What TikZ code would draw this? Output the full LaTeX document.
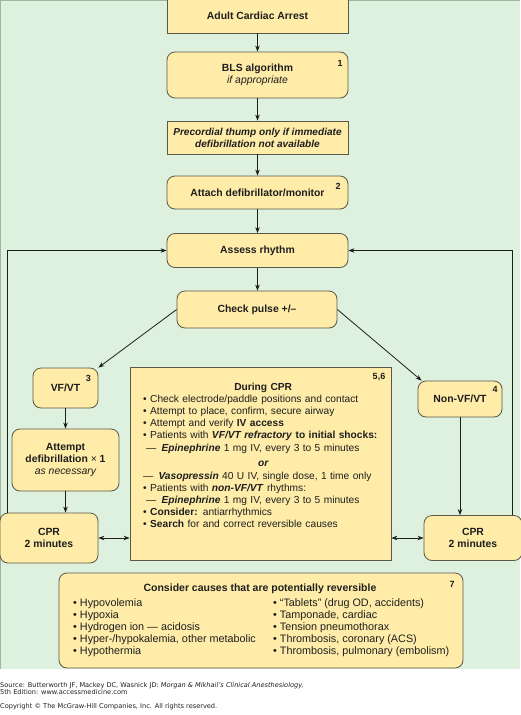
\documentclass[tikz,border=0pt]{standalone}
\usepackage{fontspec}
\setmainfont{Liberation Sans}
\newfontfamily\footfont{DejaVu Sans}
\usetikzlibrary{arrows.meta}
\definecolor{bggreen}{RGB}{222,240,222}
\definecolor{bgedge}{RGB}{160,180,160}
\definecolor{boxfill}{RGB}{255,236,168}
\definecolor{boxline}{RGB}{90,88,70}
\definecolor{ink}{RGB}{30,30,30}
\begin{document}
\begin{tikzpicture}[x=1pt,y=-1pt,
  box/.style={draw=boxline, line width=0.8pt, fill=boxfill, inner sep=0pt, text=ink,
    align=center, font=\fontsize{10.4}{12}\selectfont\bfseries},
  rbox/.style={box, rounded corners=8pt},
  tip/.tip={Stealth[length=6pt,width=4.5pt]},
  arr/.style={draw=ink, line width=0.8pt, -tip},
  darr/.style={draw=ink, line width=0.8pt, tip-tip},
  num/.style={font=\fontsize{9}{10}\selectfont\bfseries, text=ink, inner sep=0pt},
  bodytext/.style={font=\fontsize{10.2}{12.2}\selectfont, text=ink, inner sep=0pt, align=left},
  causetext/.style={font=\fontsize{10.8}{12}\selectfont, text=ink, inner sep=0pt, align=left},
  foot/.style={font=\footfont\fontsize{6.6}{7.6}\selectfont, text=ink, inner sep=0pt, align=left},
]
\useasboundingbox (0,0) rectangle (520,715);
\fill[bggreen] (0,0) rectangle (520,669);
\draw[bgedge, line width=0.6pt] (0,669) -- (0,0) -- (520,0);

% main column
\node[box, minimum width=181, minimum height=35] (start) at (257.5,15.5) {Adult Cardiac Arrest};
\node[rbox, minimum width=181, minimum height=46] (bls) at (257.5,75) {BLS algorithm\\{\mdseries\itshape if appropriate}};
\node[box, minimum width=181, minimum height=33, font=\fontsize{10.1}{12}\selectfont\bfseries\itshape] (thump) at (257.5,137.5) {Precordial thump only if immediate\\defibrillation not available};
\node[rbox, minimum width=181, minimum height=33] (attach) at (257.5,192.5) {Attach defibrillator/monitor};
\node[rbox, minimum width=181, minimum height=34] (assess) at (257.5,250.5) {Assess rhythm};
\node[rbox, minimum width=160, minimum height=37] (check) at (257,309.5) {Check pulse +/–};

% left branch
\node[rbox, minimum width=65, minimum height=40] (vf) at (65.5,388) {VF/VT};
\node[rbox, minimum width=107, minimum height=62] (attempt) at (65.5,460) {Attempt\\defibrillation {\mdseries×} 1\\{\mdseries\itshape as necessary}};
\node[rbox, minimum width=98, minimum height=50] (cprL) at (49,538) {CPR\\2 minutes};

% right branch
\node[rbox, minimum width=84, minimum height=36] (non) at (460,399) {Non-VF/VT};
\node[rbox, minimum width=98, minimum height=45] (cprR) at (473,538) {CPR\\2 minutes};

% during CPR
\node[box, minimum width=261, minimum height=193] (during) at (260.5,463.5) {};
\node[bodytext, text width=240, anchor=north west] (duringtxt) at (143,382.6) {%
\makebox[\hsize][c]{\bfseries During CPR}\\
• Check electrode/paddle positions and contact\\
• Attempt to place, confirm, secure airway\\
• Attempt and verify \textbf{IV access}\\
• Patients with \textbf{\textit{VF/VT refractory} to initial shocks:}\\
\hspace*{3pt}— \,\textbf{\textit{Epinephrine}} 1 mg IV, every 3 to 5 minutes\\[2.8pt]
\makebox[\hsize][c]{\bfseries\itshape or}\\[0.8pt]
— \,\textbf{\textit{Vasopressin}} 40 U IV, single dose, 1 time only\\
• Patients with \textbf{\textit{non-VF/VT}} rhythms:\\
\hspace*{3pt}— \,\textbf{\textit{Epinephrine}} 1 mg IV, every 3 to 5 minutes\\
• \textbf{Consider:} antiarrhythmics\\
• \textbf{Search} for and correct reversible causes};

% causes
\node[rbox, minimum width=404, minimum height=95] (causes) at (261,620.5) {};
\node[font=\fontsize{10.5}{12}\selectfont\bfseries, text=ink, inner sep=0pt, anchor=base] (causestitle) at (260,591) {Consider causes that are potentially reversible};
\node[causetext, anchor=north west] (causesL) at (73,598.2) {%
• Hypovolemia\\
• Hypoxia\\
• Hydrogen ion — acidosis\\
• Hyper-/hypokalemia, other metabolic\\
• Hypothermia};
\node[causetext, anchor=north west] (causesR) at (273,598.2) {%
• “Tablets” (drug OD, accidents)\\
• Tamponade, cardiac\\
• Tension pneumothorax\\
• Thrombosis, coronary (ACS)\\
• Thrombosis, pulmonary (embolism)};

% numbers
\node[num] (n1) at (340,63) {1};
\node[num] (n2) at (338,186) {2};
\node[num] (n3) at (88.5,378) {3};
\node[num] (n4) at (495,389) {4};
\node[num] (n56) at (379,377) {5,6};
\node[num] (n7) at (452,584) {7};

% connectors
\draw[arr] (start) -- (bls);
\draw[arr] (bls) -- (thump);
\draw[arr] (thump) -- (attach);
\draw[arr] (attach) -- (assess);
\draw[arr] (assess.south) -- (assess.south |- check.north);
\draw[arr] (check.west) -- (vf.north east);
\draw[arr] (check.east) -- ([xshift=4pt]non.north west);
\draw[arr] (vf) -- (attempt);
\draw[arr] (attempt.south) -- (attempt.south |- cprL.north);
\draw[arr] (non.south) -- (non.south |- cprR.north);
\draw[darr] (cprL.east) -- (cprL.east -| during.west);
\draw[darr] (cprR.west -| during.east) -- (cprR.west);
\coordinate (loopL) at (7,0);
\coordinate (loopR) at (512,0);
\draw[arr] (cprL.north -| loopL) |- (assess.west);
\draw[arr] (cprR.north -| loopR) |- (assess.east);

% footer
\node[foot, anchor=base west] (source) at (0,687) {Source: Butterworth JF, Mackey DC, Wasnick JD: \textit{Morgan \& Mikhail’s Clinical Anesthesiology,}};
\node[foot, anchor=base west] (edition) at (0,694.5) {5th Edition: www.accessmedicine.com};
\node[foot, anchor=base west] (copyright) at (0,708.5) {Copyright © The McGraw-Hill Companies, Inc. All rights reserved.};
\end{tikzpicture}
\end{document}
